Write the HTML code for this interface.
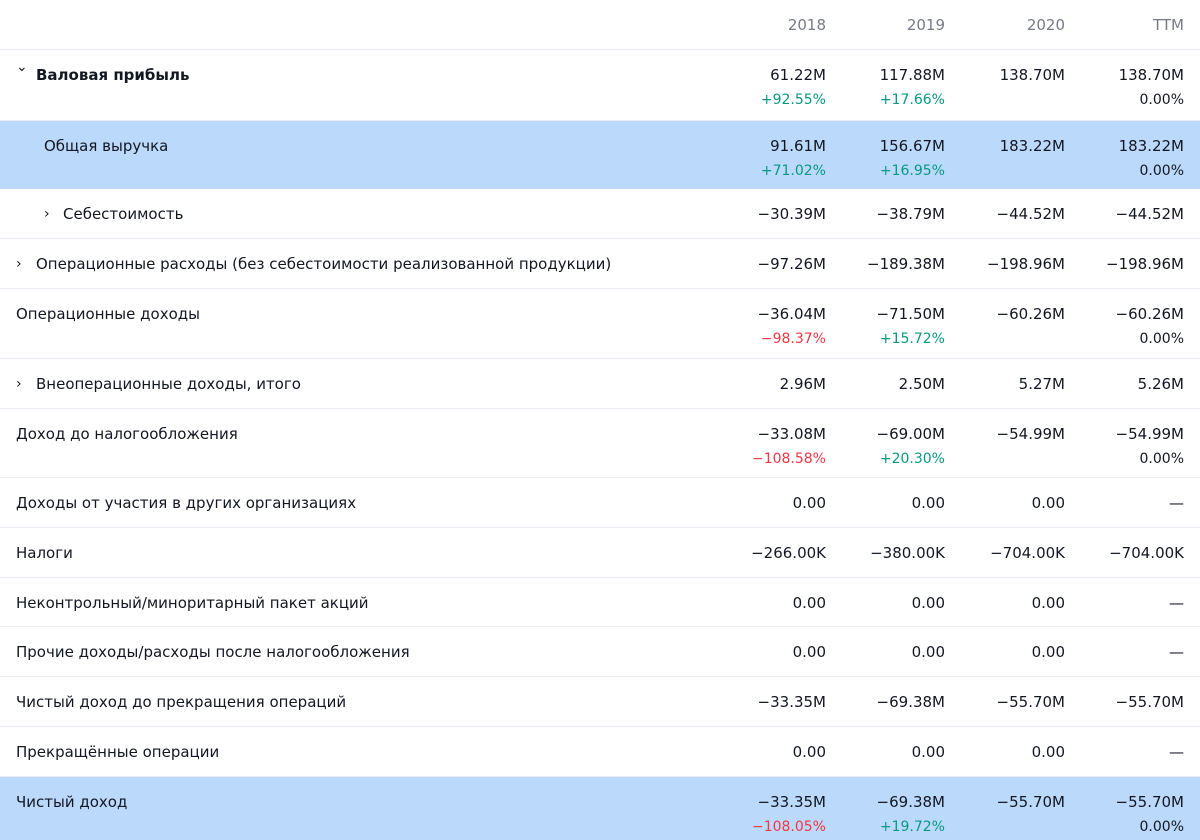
<!DOCTYPE html>
<html><head><meta charset="utf-8">
<style>
body{margin:0;width:1200px;height:840px;overflow:hidden;background:#fff;font-family:"DejaVu Sans","Liberation Sans",sans-serif;font-size:15px;color:#131722}
.row{position:absolute;left:0;width:1200px;border-bottom:1px solid #e9ecf2;box-sizing:border-box}
.hl{background:#bbd9fb;border-bottom:none}
.lab{position:absolute;top:13px;line-height:24px;white-space:nowrap}
.arr{position:absolute;top:13px;line-height:24px;font-size:14px}
.v{position:absolute;top:13px;width:115px;text-align:right;line-height:24px;white-space:nowrap}
.c{font-size:14px;color:#089981}
.r{font-size:14px;color:#f23645}
.k{font-size:14px;color:#131722}
.hdr{color:#787b86}
</style></head><body>
<div id="t"></div>
<script>
const rights=[826,945,1065,1184];
const rows=[
{top:0,h:50,hdr:true,label:'',vals:['2018','2019','2020','TTM']},
{top:50,h:71,label:'Валовая прибыль',bold:true,ind:36,arrow:'down',ax:16,vals:['61.22M','117.88M','138.70M','138.70M'],ch:[['+92.55%','c'],['+17.66%','c'],null,['0.00%','k']]},
{top:121,h:68,hl:true,label:'Общая выручка',ind:44,vals:['91.61M','156.67M','183.22M','183.22M'],ch:[['+71.02%','c'],['+16.95%','c'],null,['0.00%','k']]},
{top:189,h:50,label:'Себестоимость',ind:63,arrow:'right',ax:44,vals:['−30.39M','−38.79M','−44.52M','−44.52M']},
{top:239,h:50,label:'Операционные расходы (без себестоимости реализованной продукции)',ind:36,arrow:'right',ax:16,vals:['−97.26M','−189.38M','−198.96M','−198.96M']},
{top:289,h:70,label:'Операционные доходы',ind:16,vals:['−36.04M','−71.50M','−60.26M','−60.26M'],ch:[['−98.37%','r'],['+15.72%','c'],null,['0.00%','k']]},
{top:359,h:50,label:'Внеоперационные доходы, итого',ind:36,arrow:'right',ax:16,vals:['2.96M','2.50M','5.27M','5.26M']},
{top:409,h:69,label:'Доход до налогообложения',ind:16,vals:['−33.08M','−69.00M','−54.99M','−54.99M'],ch:[['−108.58%','r'],['+20.30%','c'],null,['0.00%','k']]},
{top:478,h:50,label:'Доходы от участия в других организациях',ind:16,vals:['0.00','0.00','0.00','—']},
{top:528,h:50,label:'Налоги',ind:16,vals:['−266.00K','−380.00K','−704.00K','−704.00K']},
{top:578,h:49,label:'Неконтрольный/миноритарный пакет акций',ind:16,vals:['0.00','0.00','0.00','—']},
{top:627,h:50,label:'Прочие доходы/расходы после налогообложения',ind:16,vals:['0.00','0.00','0.00','—']},
{top:677,h:50,label:'Чистый доход до прекращения операций',ind:16,vals:['−33.35M','−69.38M','−55.70M','−55.70M']},
{top:727,h:50,label:'Прекращённые операции',ind:16,vals:['0.00','0.00','0.00','—']},
{top:777,h:63,hl:true,label:'Чистый доход',ind:16,vals:['−33.35M','−69.38M','−55.70M','−55.70M'],ch:[['−108.05%','r'],['+19.72%','c'],null,['0.00%','k']]}
];
const t=document.getElementById('t');
rows.forEach((r,i)=>{
 const d=document.createElement('div');
 d.className='row'+(r.hl?' hl':'');
 d.style.top=r.top+'px';d.style.height=r.h+'px';
 
 
 if(r.arrow){const a=document.createElement('div');a.className='arr';a.style.left=r.ax+'px';
  a.textContent=r.arrow==='down'?'⌄':'›';
  if(r.arrow==='down'){a.style.top='5px';}
  
  d.appendChild(a);}
 if(r.label){const l=document.createElement('div');l.className='lab';l.style.left=r.ind+'px';l.textContent=r.label;if(r.bold)l.style.fontWeight='bold';
  
  d.appendChild(l);}
 r.vals.forEach((v,j)=>{const c=document.createElement('div');c.className='v'+(r.hdr?' hdr':'');c.style.left=(rights[j]-115)+'px';
  c.innerHTML=v+(r.ch&&r.ch[j]?'<br><span class="'+r.ch[j][1]+'">'+r.ch[j][0]+'</span>':'');
  
  d.appendChild(c);});
 t.appendChild(d);
});
</script>
</body></html>
